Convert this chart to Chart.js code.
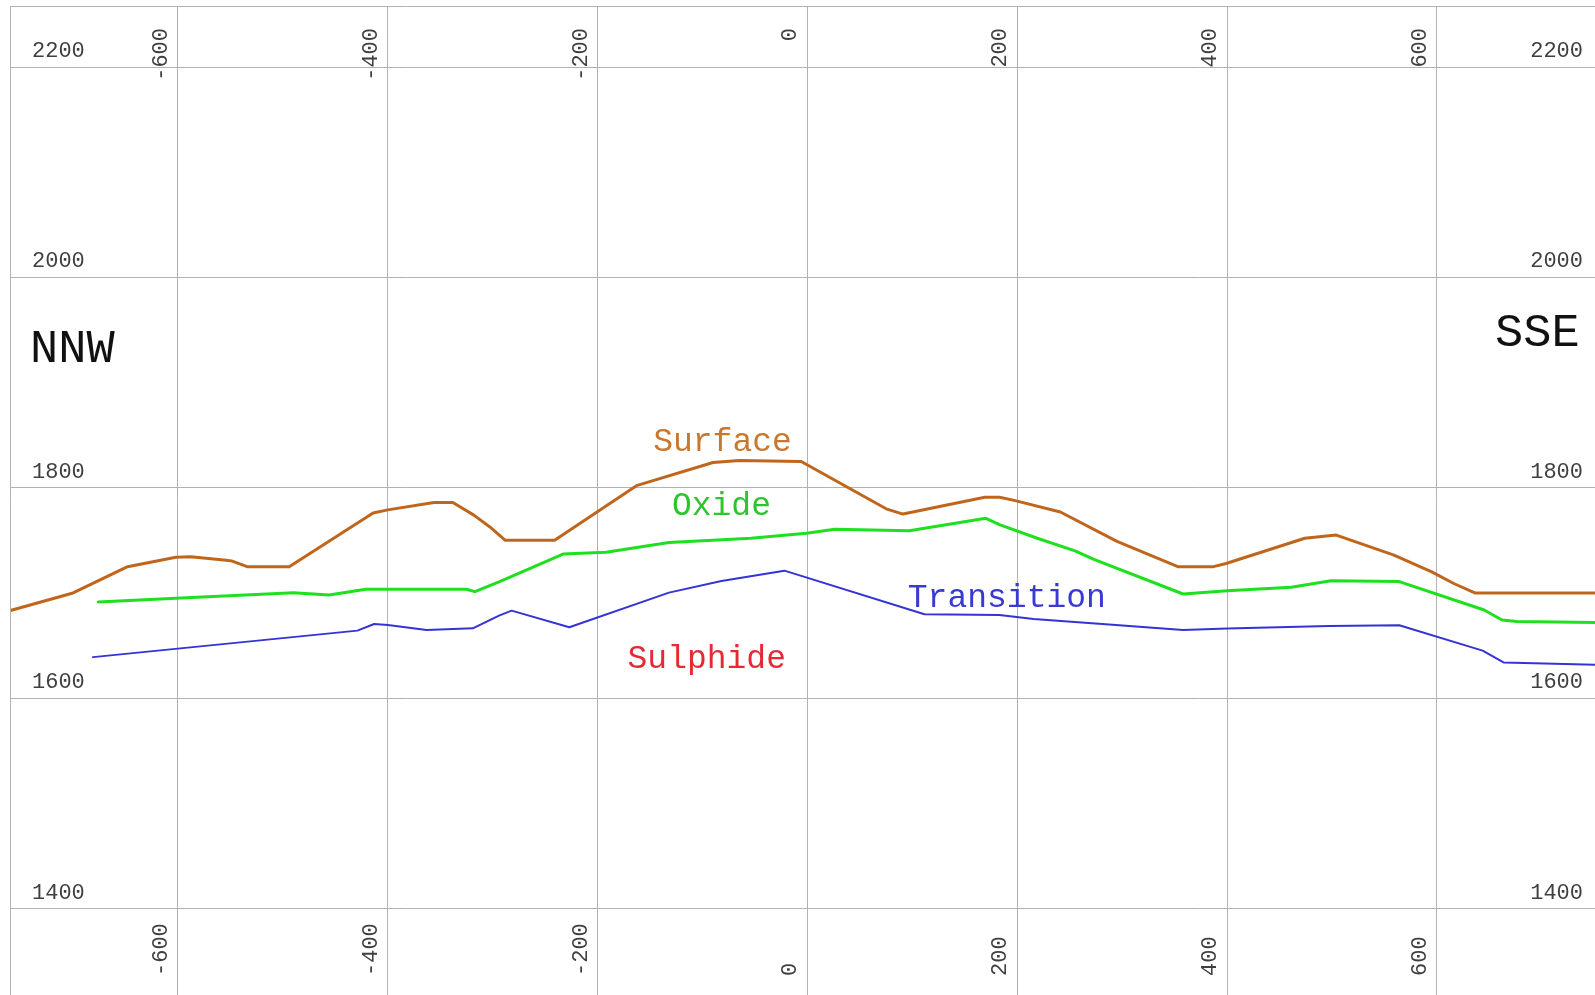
<!DOCTYPE html>
<html>
<head>
<meta charset="utf-8">
<title>Section NNW-SSE</title>
<script src="https://cdn.jsdelivr.net/npm/chart.js@4.4.1/dist/chart.umd.min.js"></script>
<style>
  html, body { margin: 0; padding: 0; background: #ffffff; }
  canvas { display: block; }
</style>
</head>
<body>
<canvas id="section" width="1595" height="995"></canvas>
<script>
// Section distances (m along line) and elevations (m RL) for each contact
const surfaceX = [-761, -700, -648, -602, -588, -554, -549, -534, -494, -414, -400, -356, -338, -318, -303, -288, -241, -163, -90, -65, -6, 75, 91, 169, 183, 197, 241, 295, 353, 387, 399, 474, 504, 559, 595, 616, 636, 752];
const surfaceY = [1683, 1700, 1725, 1734, 1734.5, 1731, 1730.5, 1725, 1725, 1776, 1779, 1786, 1786, 1774, 1763, 1750, 1750, 1802, 1824, 1826, 1825, 1780, 1775, 1791, 1791, 1788, 1777, 1749, 1725, 1725, 1728, 1752, 1755, 1736, 1720, 1709, 1700, 1700];

const oxideX = [-676, -602, -490, -456, -421, -325, -317, -294, -233, -192, -132, -54, -1, 26, 97, 170, 183, 219, 255, 273, 358, 400, 461, 499, 564, 645, 662, 676, 752];
const oxideY = [1691.5, 1695, 1700.3, 1698, 1703.5, 1703.5, 1701.3, 1710.5, 1737, 1738.7, 1748, 1752, 1756.7, 1760.5, 1759.2, 1771, 1765, 1752, 1740, 1732, 1699, 1702, 1705.5, 1711.7, 1710.8, 1683.8, 1674.3, 1672.8, 1671.8];

const transitionX = [-681, -429, -413, -400, -363, -319, -294, -282, -227, -132, -82, -22, 111.5, 183, 215.5, 281, 358, 400, 497, 564, 643.5, 663.4, 752];
const transitionY = [1639, 1664.2, 1670.5, 1669.6, 1664.8, 1666.4, 1678.5, 1683.2, 1667.4, 1700.3, 1711.4, 1721.2, 1679.8, 1679.1, 1675.3, 1670.5, 1664.8, 1666.1, 1668.6, 1669.3, 1645.2, 1634, 1631.6];

// Grid / tick values
const distanceTicks = [-600, -400, -200, 0, 200, 400, 600];
const elevationTicks = [1400, 1600, 1800, 2000, 2200];

// Zone names written on the section, placed in section coordinates
const zoneLabels = [
  { text: 'Surface',    x: -81,  y: 1834.5, color: '#c8782c', align: 'center', size: 33 },
  { text: 'Oxide',      x: -82,  y: 1774,   color: '#2ec42e', align: 'center', size: 33 },
  { text: 'Transition', x: 190,  y: 1686.7, color: '#3a3ad2', align: 'center', size: 33 },
  { text: 'Sulphide',   x: -96,  y: 1628.7, color: '#e52a36', align: 'center', size: 33 },
  { text: 'NNW',        x: -741, y: 1919.6, color: '#111111', align: 'left',   size: 47 },
  { text: 'SSE',        x: 736,  y: 1934.8, color: '#111111', align: 'right',  size: 47 }
];

const pairs = (xs, ys) => xs.map((x, i) => ({ x: x, y: ys[i] }));

const MONO = '"Liberation Mono", "DejaVu Sans Mono", monospace';
const GRID = '#b2b2b2';
const TICK_COLOR = '#3f3f3f';

// Frame plus tick labels printed inside the section window
const sectionFrame = {
  id: 'sectionFrame',
  afterDraw(chart) {
    const { ctx, chartArea: a, scales: { x, y } } = chart;
    ctx.save();
    // frame (top and left edges)
    ctx.strokeStyle = GRID;
    ctx.lineWidth = 1;
    ctx.beginPath();
    ctx.moveTo(a.left + 0.5, a.bottom);
    ctx.lineTo(a.left + 0.5, a.top + 0.5);
    ctx.lineTo(a.right, a.top + 0.5);
    ctx.stroke();

    ctx.fillStyle = TICK_COLOR;
    ctx.font = '22px ' + MONO;
    ctx.textBaseline = 'alphabetic';
    // elevation labels on both sides, just above each grid line
    elevationTicks.forEach(v => {
      const py = y.getPixelForValue(v) - 10;
      ctx.textAlign = 'left';
      ctx.fillText(String(v), a.left + 22, py);
      ctx.textAlign = 'right';
      ctx.fillText(String(v), a.right - 12, py);
    });
    // distance labels, rotated, along top and bottom
    distanceTicks.forEach(v => {
      const px = x.getPixelForValue(v) - 11;
      ctx.save();
      ctx.translate(px, a.top + 22);
      ctx.rotate(-Math.PI / 2);
      ctx.textAlign = 'right';
      ctx.fillText(String(v), 0, 0);
      ctx.restore();
      ctx.save();
      ctx.translate(px, a.bottom - 19);
      ctx.rotate(-Math.PI / 2);
      ctx.textAlign = 'left';
      ctx.fillText(String(v), 0, 0);
      ctx.restore();
    });

    // zone and direction labels
    zoneLabels.forEach(l => {
      ctx.fillStyle = l.color;
      ctx.font = l.size + 'px ' + MONO;
      ctx.textAlign = l.align;
      ctx.fillText(l.text, x.getPixelForValue(l.x), y.getPixelForValue(l.y));
    });
    ctx.restore();
  }
};

new Chart(document.getElementById('section'), {
  type: 'scatter',
  data: {
    datasets: [
      { label: 'Surface', data: pairs(surfaceX, surfaceY), borderColor: '#c0661c', borderWidth: 3 },
      { label: 'Oxide', data: pairs(oxideX, oxideY), borderColor: '#1ee01e', borderWidth: 3 },
      { label: 'Transition', data: pairs(transitionX, transitionY), borderColor: '#3434d6', borderWidth: 2 }
    ].map(d => Object.assign(d, {
      showLine: true, pointRadius: 0, pointHoverRadius: 0, tension: 0, fill: false,
      borderJoinStyle: 'round', borderCapStyle: 'round'
    }))
  },
  options: {
    responsive: false,
    animation: false,
    devicePixelRatio: 1,
    layout: { padding: { top: 6, left: 10, right: 0, bottom: 0 } },
    plugins: { legend: { display: false }, tooltip: { enabled: false } },
    events: [],
    scales: {
      x: {
        type: 'linear', min: -760.1, max: 750.6,
        afterBuildTicks: s => { s.ticks = distanceTicks.map(v => ({ value: v })); },
        ticks: { display: false },
        grid: { color: GRID, lineWidth: 1, drawTicks: false },
        border: { display: false }
      },
      y: {
        type: 'linear', min: 1317.8, max: 2258,
        afterBuildTicks: s => { s.ticks = elevationTicks.map(v => ({ value: v })); },
        ticks: { display: false },
        grid: { color: GRID, lineWidth: 1, drawTicks: false },
        border: { display: false }
      }
    }
  },
  plugins: [sectionFrame]
});
</script>
</body>
</html>
